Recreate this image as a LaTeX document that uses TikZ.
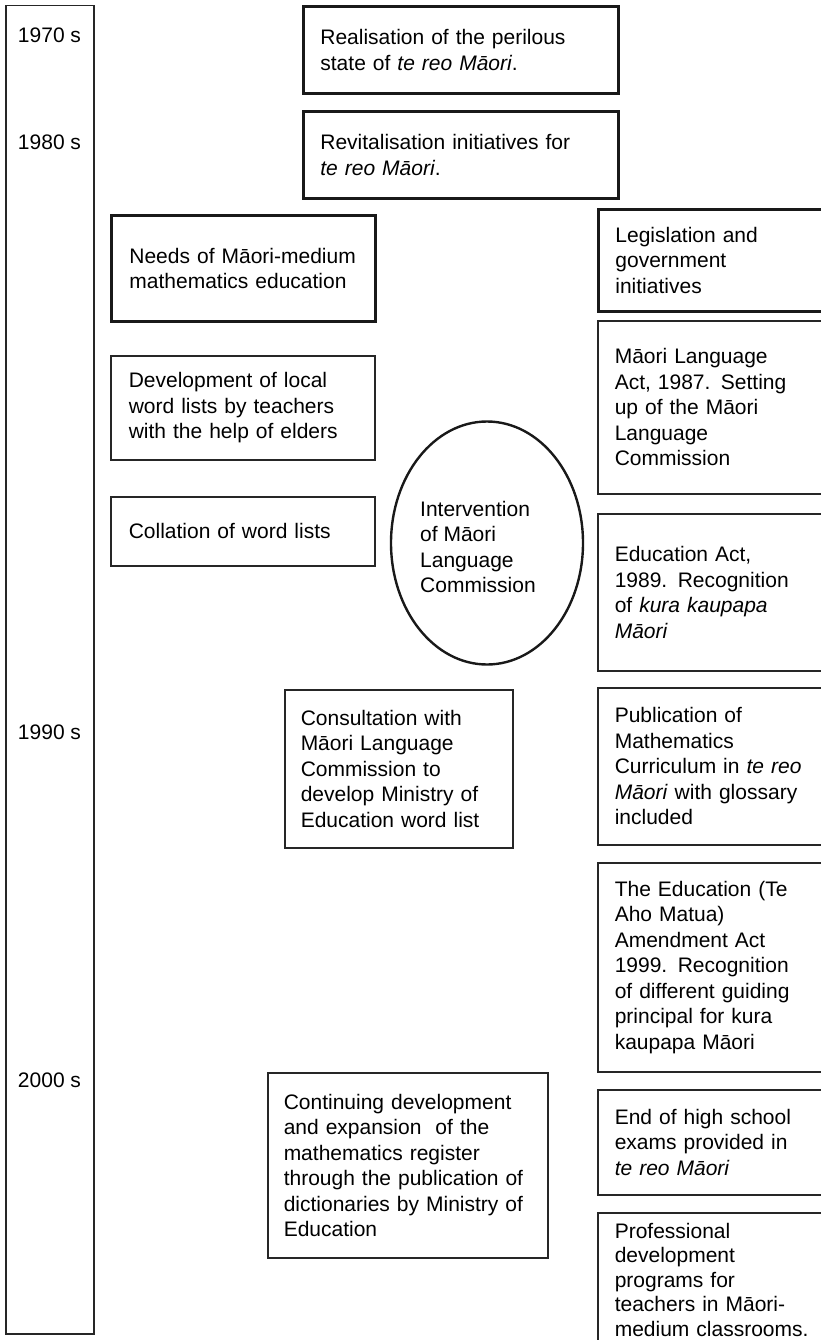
\documentclass[tikz,border=0pt]{standalone}
\usepackage{fontspec}
\setmainfont{Liberation Sans}
\usetikzlibrary{shapes.geometric}
\begin{document}
\begin{tikzpicture}[x=1pt,y=-1pt,
  every node/.style={font=\fontsize{21}{25.5}\selectfont, text=black},
  evbox/.style={draw=black!85, line width=1.5pt, inner xsep=17pt, inner ysep=0pt,
                align=left, anchor=north west},
  keybox/.style={evbox, draw=black!90, line width=2.8pt},
  yearlbl/.style={anchor=center, inner sep=0pt}
]
\useasboundingbox (0,0) rectangle (821,1340);
\clip (0,0) rectangle (821,1340);

% time axis
\node[draw=black!85, line width=1.5pt, anchor=north west, minimum width=88pt,
      minimum height=1328pt, inner sep=0pt] (axis) at (5,5) {};
\node[yearlbl] (y1970) at (49.5,35) {1970 s};
\node[yearlbl] (y1980) at (49.5,142) {1980 s};
\node[yearlbl] (y1990) at (49.5,732) {1990 s};
\node[yearlbl] (y2000) at (49.5,1080) {2000 s};

% national context
\node[keybox, text width=281pt, minimum height=87pt] (realise) at (302,5)
  {Realisation of the perilous\\ state of \textit{te reo Māori}.};
\node[keybox, text width=281pt, minimum height=87pt] (revital) at (302,110)
  {Revitalisation initiatives for\\ \textit{te reo Māori}.};

% left column: mathematics education
\node[keybox, inner xsep=18pt, text width=228pt, minimum height=106pt] (needs) at (110,214)
  {Needs of Māori-medium\\ mathematics education};
\node[evbox, inner xsep=18pt, text width=228pt, minimum height=104pt] (local) at (110,355)
  {Development of local\\ word lists by teachers\\ with the help of elders};
\node[evbox, inner xsep=18pt, text width=228pt, minimum height=69pt] (collate) at (110,496)
  {Collation of word lists};
\node[evbox, inner xsep=16pt, text width=196pt, minimum height=158pt] (consult) at (284,689)
  {Consultation with\\ Māori Language\\ Commission to\\ develop Ministry of\\ Education word list};
\node[evbox, inner xsep=16pt, text width=248pt, minimum height=185pt] (dict) at (267,1072)
  {Continuing development\\ and expansion\ \ of the\\ mathematics register\\ through the publication of\\ dictionaries by Ministry of\\ Education};

% commission
\node[draw=black!90, line width=2.4pt, ellipse, minimum width=192pt, minimum height=243pt,
      inner sep=0pt] (commission) at (487,543) {};
\node[anchor=west, align=left, inner sep=0pt] (commtext) at (420,547)
  {Intervention\\ of Māori\\ Language\\ Commission};

% right column: legislation and government initiatives
\node[keybox, text width=216pt, minimum height=102pt] (legis) at (597,208)
  {Legislation and\\ government\\ initiatives};
\node[evbox, text width=216pt, minimum height=173pt] (mla) at (597,320)
  {Māori Language\\ Act, 1987. Setting\\ up of the Māori\\ Language\\ Commission};
\node[evbox, text width=216pt, minimum height=157pt] (eduact) at (597,513)
  {Education Act,\\ 1989. Recognition\\ of \textit{kura kaupapa}\\ \textit{Māori}};
\node[evbox, text width=216pt, minimum height=157pt] (curric) at (597,687)
  {Publication of\\ Mathematics\\ Curriculum in \textit{te reo}\\ \textit{Māori} with glossary\\ included};
\node[evbox, text width=216pt, minimum height=209pt] (ahomatua) at (597,862)
  {The Education (Te\\ Aho Matua)\\ Amendment Act\\ 1999. Recognition\\ of different guiding\\ principal for kura\\ kaupapa Māori};
\node[evbox, text width=216pt, minimum height=105pt] (exams) at (597,1089)
  {End of high school\\ exams provided in\\ \textit{te reo Māori}};
\node[evbox, text width=216pt, minimum height=134pt,
      font=\fontsize{21}{24.5}\selectfont] (profdev) at (597,1212)
  {Professional\\ development\\ programs for\\ teachers in Māori-\\ medium classrooms.};
\end{tikzpicture}
\end{document}
